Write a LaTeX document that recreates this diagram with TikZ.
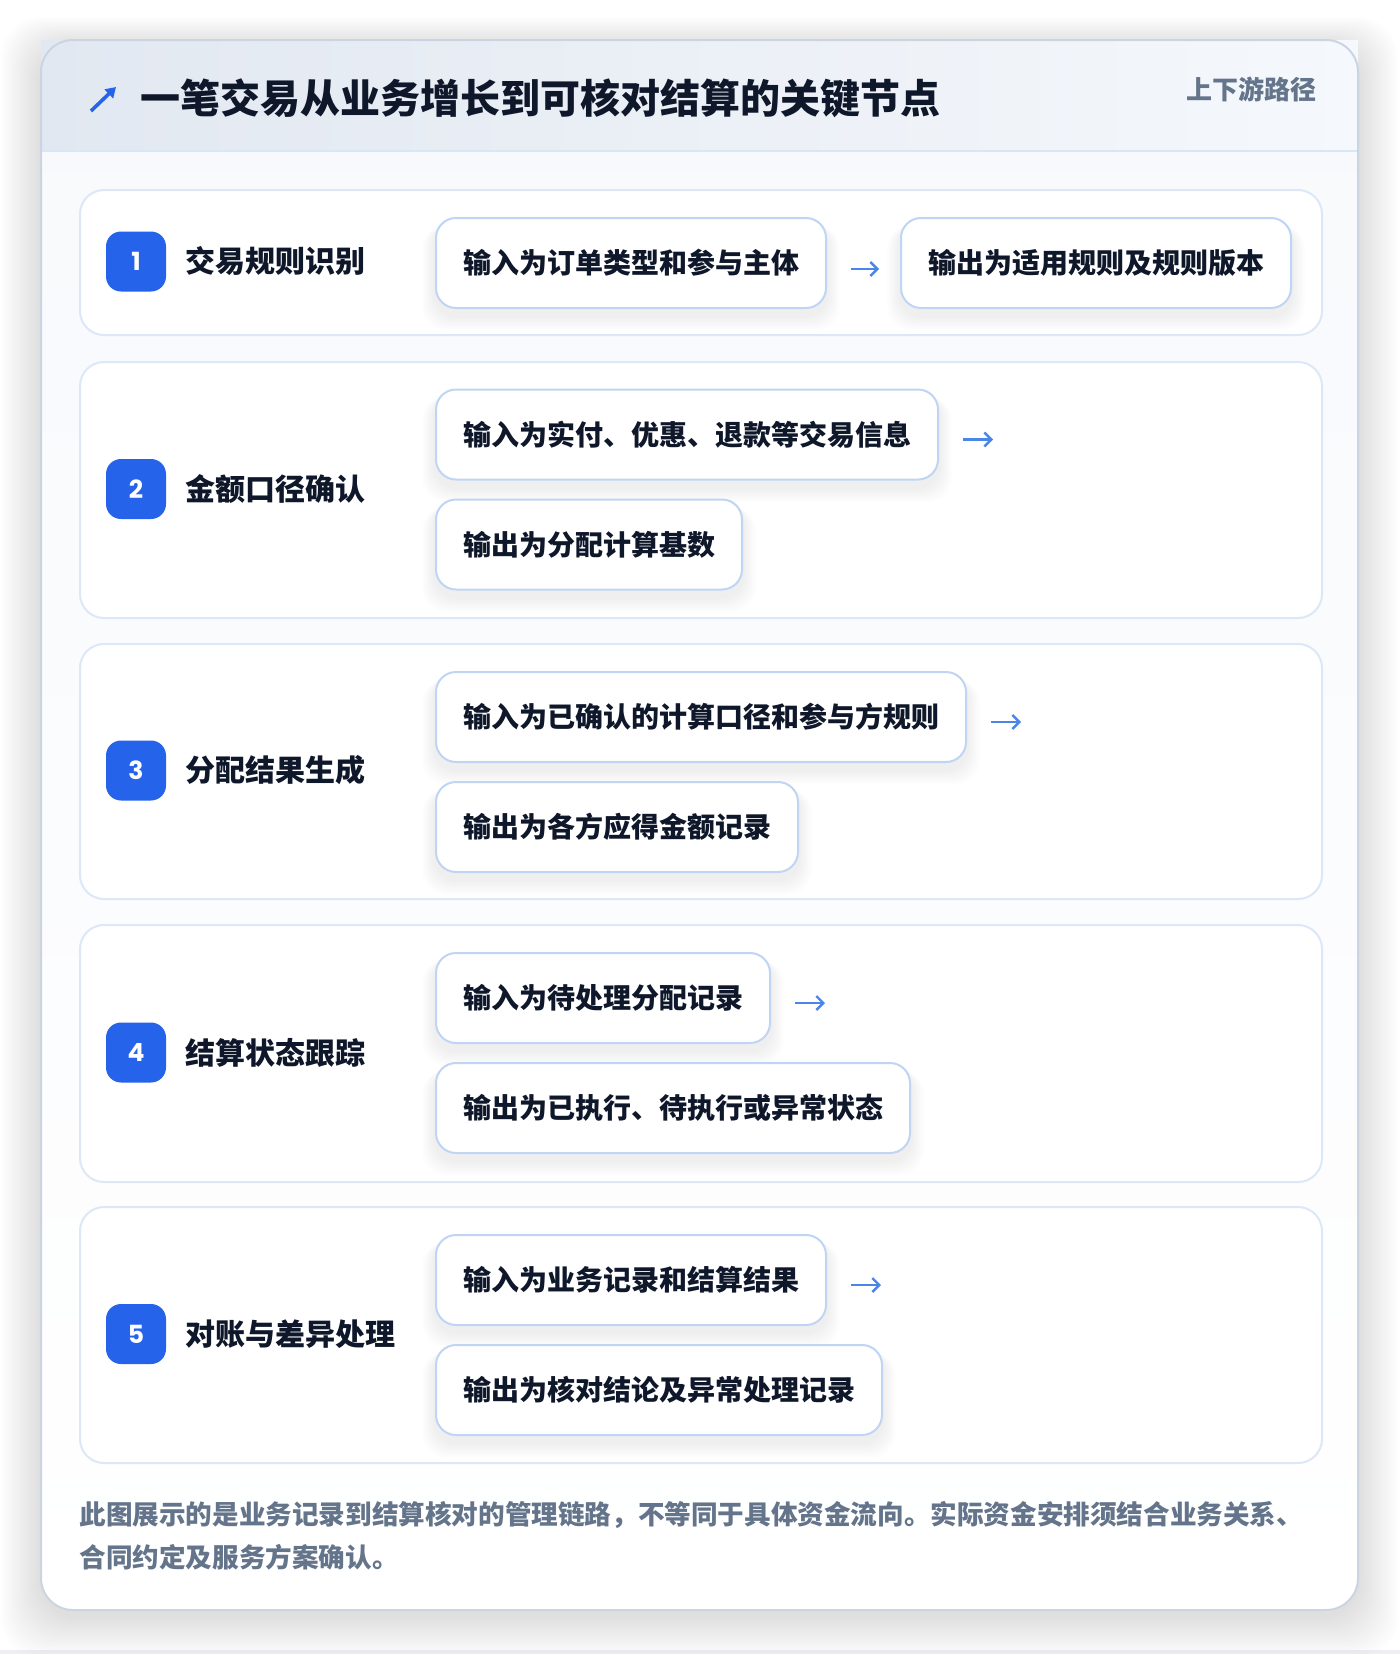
\documentclass[tikz,border=0pt]{standalone}
\usepackage{fontspec}
\usetikzlibrary{calc,arrows.meta}
\newfontfamily\cjk{Noto Sans CJK SC}
\newfontfamily\numfont{Poppins}
\definecolor{ink}{HTML}{0F172A}
\definecolor{muted}{HTML}{64748B}
\definecolor{badgeblue}{HTML}{2563EB}
\definecolor{arrowblue}{HTML}{4A86E8}
\definecolor{pillborder}{HTML}{BFD5F3}
\definecolor{rowborder}{HTML}{DCE8F8}
\definecolor{cardborder}{HTML}{CBD5E1}
\definecolor{headL}{HTML}{E2E8F1}
\definecolor{headR}{HTML}{F5F8FC}
\definecolor{headline}{HTML}{D9E6F6}
\definecolor{cardtop}{HTML}{F7F9FC}
\definecolor{stripgray}{HTML}{EDEFF2}
\pgfdeclarelayer{bglayer}
\pgfdeclarelayer{pshadow}
\pgfsetlayers{bglayer,pshadow,main}
\tikzset{
  rowbox/.style={draw=rowborder, line width=1pt, fill=white, rounded corners=12pt,
    anchor=north west, minimum width=621pt, inner sep=0pt},
  pill/.style={draw=pillborder, line width=1pt, fill=white, rounded corners=10pt,
    minimum height=45pt, inner xsep=13.5pt, inner ysep=0pt, anchor=north west, text=ink,
    font=\cjk\bfseries\fontsize{14pt}{16pt}\selectfont},
  badge/.style={fill=badgeblue, rounded corners=7.5pt, minimum width=30pt, minimum height=30pt,
    inner sep=0pt, text=white, font=\numfont\bfseries\fontsize{12.5pt}{14pt}\selectfont},
  steplabel/.style={anchor=west, inner sep=0pt, text=ink,
    font=\cjk\bfseries\fontsize{15pt}{18pt}\selectfont},
  flowarrow/.style={draw=arrowblue, line width=1.2pt, -{Straight Barb[length=3.5pt,width=7pt]}},
  foot/.style={anchor=west, inner sep=0pt, text=muted,
    font=\cjk\bfseries\fontsize{13.3pt}{16pt}\selectfont}
}
\newcommand{\pillshadow}[1]{%
  \begin{pgfonlayer}{pshadow}
  \foreach \k in {1,...,8}{%
    \fill[black, fill opacity=0.009, rounded corners=12pt]
      ($(#1.north west)+({-\k*1.6},{5+\k*0.4})$) rectangle ($(#1.south east)+({\k*1.6},{7+\k*1.8})$);
  }
  \end{pgfonlayer}}
\begin{document}
\begin{tikzpicture}[x=0.5pt,y=-0.5pt]
\useasboundingbox (0,0) rectangle (1400,1654);
\begin{pgfonlayer}{bglayer}
\fill[white] (0,0) rectangle (1400,1654);
\fill[stripgray] (0,1650) rectangle (1400,1654);
% card shadow
\foreach \k in {1,...,16}{%
  \fill[black, fill opacity=0.006, rounded corners=20pt]
    ({41-\k*2.5},{46-\k*1.8}) rectangle ({1358+\k*2.5},{1616+\k*2.6});
}
% card body
\shade[top color=cardtop, bottom color=white, rounded corners=16pt] (41,40) rectangle (1358,1610);
% header
\shade[left color=headL, right color=headR] (41,40) rectangle (1358,151);
\draw[headline, line width=1pt] (41,151) -- (1358,151);
\draw[cardborder, line width=1pt, rounded corners=16pt] (41,40) rectangle (1358,1610);
% rows
\node[rowbox, minimum height=72.5pt] (r1) at (79,189) {};
\node[rowbox, minimum height=128pt] (r2) at (79,361) {};
\node[rowbox, minimum height=127.5pt] (r3) at (79,643) {};
\node[rowbox, minimum height=128.5pt] (r4) at (79,924) {};
\node[rowbox, minimum height=128pt] (r5) at (79,1206) {};
\end{pgfonlayer}

% header content
\coordinate (ta) at (91,111);
\coordinate (tb) at (116,87);
\draw[badgeblue, line width=1.8pt, -{Triangle[length=5pt,width=6pt]}] (ta) -- (tb);
\node[anchor=west, inner sep=0pt, text=ink, font=\cjk\bfseries\fontsize{20pt}{24pt}\selectfont] (title) at (140,98) {一笔交易从业务增长到可核对结算的关键节点};
\node[anchor=east, inner sep=0pt, text=muted, font=\cjk\bfseries\fontsize{13pt}{15pt}\selectfont] (sub) at (1317,89) {上下游路径};

% row 1
\node[badge] (b1) at (136,261.5) {1};
\node[steplabel] (l1) at (185,261.5) {交易规则识别};
\node[pill] (p1a) at (435,217) {输入为订单类型和参与主体};
\node[pill] (p1b) at (900,217) {输出为适用规则及规则版本};
\pillshadow{p1a}\pillshadow{p1b}
\draw[flowarrow] ($(p1a.east)+(24,6)$) -- ($(p1b.west)+(-21,6)$);

% row 2
\node[badge] (b2) at (136,489) {2};
\node[steplabel] (l2) at (185,489) {金额口径确认};
\node[pill] (p2a) at (435,388.5) {输入为实付、优惠、退款等交易信息};
\node[pill] (p2b) at (435,498.5) {输出为分配计算基数};
\pillshadow{p2a}\pillshadow{p2b}
\coordinate (a2) at ($(p2a.east)+(54,5)$);
\draw[flowarrow] ($(p2a.east)+(24,5)$) -- (a2);

% row 3
\node[badge] (b3) at (136,770.5) {3};
\node[steplabel] (l3) at (185,770.5) {分配结果生成};
\node[pill] (p3a) at (435,671) {输入为已确认的计算口径和参与方规则};
\node[pill] (p3b) at (435,781) {输出为各方应得金额记录};
\pillshadow{p3a}\pillshadow{p3b}
\coordinate (a3) at ($(p3a.east)+(54,5)$);
\draw[flowarrow] ($(p3a.east)+(24,5)$) -- (a3);

% row 4
\node[badge] (b4) at (136,1052.5) {4};
\node[steplabel] (l4) at (185,1052.5) {结算状态跟踪};
\node[pill] (p4a) at (435,952) {输入为待处理分配记录};
\node[pill] (p4b) at (435,1062) {输出为已执行、待执行或异常状态};
\pillshadow{p4a}\pillshadow{p4b}
\coordinate (a4) at ($(p4a.east)+(54,5)$);
\draw[flowarrow] ($(p4a.east)+(24,5)$) -- (a4);

% row 5
\node[badge] (b5) at (136,1334) {5};
\node[steplabel] (l5) at (185,1334) {对账与差异处理};
\node[pill] (p5a) at (435,1234) {输入为业务记录和结算结果};
\node[pill] (p5b) at (435,1344) {输出为核对结论及异常处理记录};
\pillshadow{p5a}\pillshadow{p5b}
\coordinate (a5) at ($(p5a.east)+(54,5)$);
\draw[flowarrow] ($(p5a.east)+(24,5)$) -- (a5);

% footer
\node[foot] (f1) at (79,1515) {此图展示的是业务记录到结算核对的管理链路，不等同于具体资金流向。实际资金安排须结合业务关系、};
\node[foot] (f2) at (79,1557) {合同约定及服务方案确认。};
\end{tikzpicture}
\end{document}
